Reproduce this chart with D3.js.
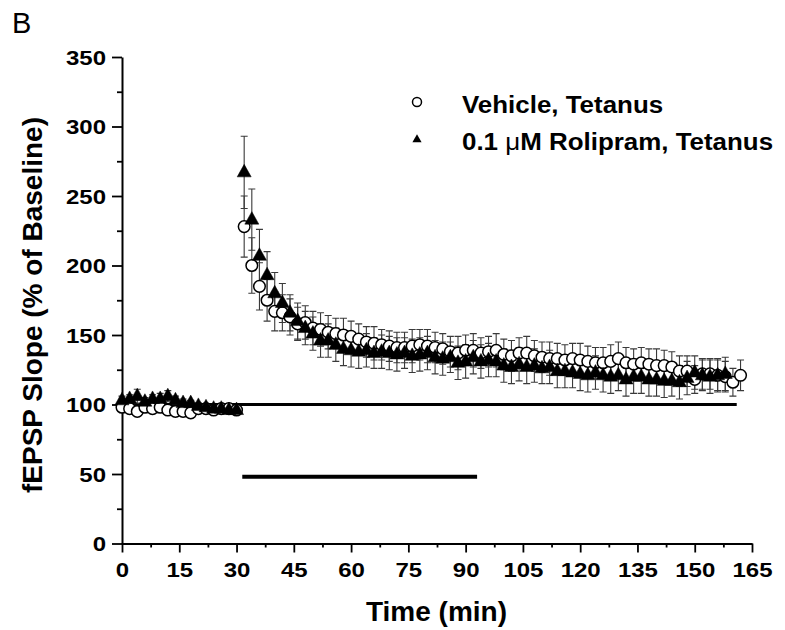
<!DOCTYPE html>
<html>
<head>
<meta charset="utf-8">
<script src="https://cdn.jsdelivr.net/npm/d3@7/dist/d3.min.js"></script>
<style>
  html, body { margin: 0; padding: 0; background: #fff; }
  svg { display: block; }
  text { font-family: "Liberation Sans", Arial, Helvetica, sans-serif; fill: #000; }
</style>
</head>
<body>
<svg id="chart" width="785" height="630"></svg>
<script>
// ---------------- data ----------------
const vehicleTime = [0,2,4,6,8,10,12,14,16,18,20,22,24,26,28,30,
  32,34,36,38,40,42,44,46,48,50,52,54,56,58,60,62,64,66,68,70,72,74,76,78,80,
  82,84,86,88,90,92,94,96,98,100,102,104,106,108,110,112,114,116,118,120,
  122,124,126,128,130,132,134,136,138,140,142,144,146,148,150,152,154,156,158,160,162];
const vehicleValue = [98,97,95,98,97,98,96,95,95,94,97,97,96,97,97,96,
  228,200,185,175,167,166,163,158,159,155,154,152,151,150,149,147,145,144,143,142,141,141,142,143,142,
  141,140,138,137,139,139,137,138,139,136,135,137,137,135,134,133,133,132,133,132,
  131,130,130,131,133,130,129,130,129,128,128,127,124,124,118,122,122,121,120,116,121];
const vehicleSem = [2,3,3,2,3,2,3,3,3,3,2,2,2,2,2,2,
  22,20,17,15,14,13,13,12,12,12,12,12,11,12,11,11,11,12,11,11,11,11,12,11,12,
  11,11,11,12,11,12,11,11,12,11,11,11,12,11,11,12,11,11,11,12,
  11,11,11,12,12,11,11,11,11,12,11,11,11,11,10,11,11,11,11,10,11];

const rolipramTime = [0,2,4,6,8,10,12,14,16,18,20,22,24,26,28,30,
  32,34,36,38,40,42,44,46,48,50,52,54,56,58,60,62,64,66,68,70,72,74,76,78,80,
  82,84,86,88,90,92,94,96,98,100,102,104,106,108,110,112,114,116,118,120,
  122,124,126,128,130,132,134,136,138,140,142,144,146,148,150,152,154,156,158];
const rolipramValue = [103,104,106,102,104,104,106,103,101,101,99,98,97,97,96,96,
  267,233,207,193,180,173,166,160,155,151,146,146,143,140,139,138,139,137,138,137,136,137,135,136,137,
  134,133,134,130,131,134,131,132,131,128,127,129,127,128,126,127,124,124,123,122,
  121,123,121,120,121,118,120,120,118,118,117,117,116,119,123,121,120,121,122];
const rolipramSem = [3,3,5,3,3,4,4,3,3,2,2,2,2,2,2,2,
  26,22,19,17,15,14,13,13,12,12,12,12,12,12,12,12,12,11,12,12,12,11,12,12,12,
  12,12,11,12,12,12,12,12,11,12,12,12,12,12,11,12,12,12,11,12,
  12,12,12,12,11,12,12,12,12,12,12,11,12,12,12,11,12,12,12,11];

const baselineLine = {x: [0, 161], y: 100};
const drugBar = {x: [31.5, 93], y: 48};

const xMajorTicks = [0,15,30,45,60,75,90,105,120,135,150,165];
const xMinorTicks = [7.5,22.5,37.5,52.5,67.5,82.5,97.5,112.5,127.5,142.5,157.5];
const yMajorTicks = [0,50,100,150,200,250,300,350];
const yMinorTicks = [25,75,125,175,225,275,325];

const legendLabels = ["Vehicle, Tetanus", "0.1 μM Rolipram, Tetanus"];

// ---------------- drawing ----------------
const svg = d3.select("#chart");
const x = d3.scaleLinear().domain([0,165]).range([122,752]);
const y = d3.scaleLinear().domain([0,350]).range([543.5,57]);

const vehicle = vehicleTime.map((t,i)=>({t, v: vehicleValue[i], s: vehicleSem[i]}));
const rolipram = rolipramTime.map((t,i)=>({t, v: rolipramValue[i], s: rolipramSem[i]}));

// axes
const gx = svg.append("g").attr("transform", `translate(0,${y(0)})`);
gx.call(d3.axisBottom(x).tickValues(xMajorTicks).tickSize(9).tickSizeOuter(0).tickFormat(d3.format("d")));
const gxm = svg.append("g").attr("transform", `translate(0,${y(0)})`);
gxm.call(d3.axisBottom(x).tickValues(xMinorTicks).tickSize(4).tickSizeOuter(0).tickFormat(""));
gxm.select(".domain").remove();

const gy = svg.append("g").attr("transform", `translate(${x(0)},0)`);
gy.call(d3.axisLeft(y).tickValues(yMajorTicks).tickSize(10).tickSizeOuter(0).tickFormat(d3.format("d")));
const gym = svg.append("g").attr("transform", `translate(${x(0)},0)`);
gym.call(d3.axisLeft(y).tickValues(yMinorTicks).tickSize(5).tickSizeOuter(0).tickFormat(""));
gym.select(".domain").remove();

svg.selectAll(".domain").attr("stroke","#000").attr("stroke-width",2);
svg.selectAll(".tick line").attr("stroke","#000").attr("stroke-width",1.8);

gx.selectAll(".tick text")
  .attr("y", 34).attr("dy", null).attr("x", 0)
  .attr("transform", "scale(1.2,1)")
  .style("font-size","20px").style("font-weight","bold");
gy.selectAll(".tick text")
  .attr("x", 0).attr("dy", "0.36em")
  .attr("transform", "translate(-16,0) scale(1.2,1)")
  .style("font-size","20px").style("font-weight","bold");
svg.selectAll("g").attr("font-family", null).attr("font-size", null);

// reference lines
svg.append("line")
  .attr("x1", x(baselineLine.x[0])).attr("x2", x(baselineLine.x[1]))
  .attr("y1", y(baselineLine.y)).attr("y2", y(baselineLine.y))
  .attr("stroke","#000").attr("stroke-width",3);
svg.append("line")
  .attr("x1", x(drugBar.x[0])).attr("x2", x(drugBar.x[1]))
  .attr("y1", y(drugBar.y)).attr("y2", y(drugBar.y))
  .attr("stroke","#000").attr("stroke-width",4);

// error bars
function errorBars(data, cls) {
  const g = svg.append("g").attr("class", cls)
    .attr("stroke", "#3a3a3a").attr("stroke-width", 1.1).attr("fill","none");
  g.selectAll("path").data(data).join("path")
    .attr("d", d => {
      const cx = x(d.t), y1 = y(d.v + d.s), y2 = y(d.v - d.s), c = 3.5;
      return `M${cx},${y1}V${y2}M${cx-c},${y1}H${cx+c}M${cx-c},${y2}H${cx+c}`;
    });
}
errorBars(vehicle, "eb-veh");
errorBars(rolipram, "eb-rol");

// markers
svg.append("g").selectAll("circle").data(vehicle).join("circle")
  .attr("cx", d => x(d.t)).attr("cy", d => y(d.v)).attr("r", 5.8)
  .attr("fill","#fff").attr("stroke","#000").attr("stroke-width",1.5);

const tri = "M0,-8L7,4.5L-7,4.5Z";
svg.append("g").selectAll("path").data(rolipram).join("path")
  .attr("d", tri)
  .attr("transform", d => `translate(${x(d.t)},${y(d.v)})`)
  .attr("fill","#000").attr("stroke","#000").attr("stroke-width",0.5);

// legend
const leg = svg.append("g");
leg.append("circle").attr("cx", 417).attr("cy", 102).attr("r", 4.5)
  .attr("fill","#fff").attr("stroke","#000").attr("stroke-width",1.5);
leg.append("path").attr("d","M0,-4.8L4.6,3.2L-4.6,3.2Z").attr("transform","translate(417,139)").attr("fill","#000");
leg.append("text").attr("transform","translate(462,113) scale(1.08,1)")
  .style("font-size","24px").style("font-weight","bold").text(legendLabels[0]);
const t2 = leg.append("text").attr("transform","translate(462,150) scale(1.08,1)")
  .style("font-size","24px").style("font-weight","bold");
const parts = legendLabels[1].split("μ");
t2.append("tspan").text(parts[0]);
t2.append("tspan").style("font-weight","normal").text("μ");
t2.append("tspan").text(parts[1]);

// axis titles
svg.append("text").attr("transform","translate(42,305) rotate(-90)")
  .attr("text-anchor","middle").style("font-size","28px").style("font-weight","bold")
  .text("fEPSP Slope (% of Baseline)");
svg.append("text").attr("x", 436.5).attr("y", 621)
  .attr("text-anchor","middle").style("font-size","28px").style("font-weight","bold")
  .text("Time (min)");

// panel letter
svg.append("text").attr("x", 12).attr("y", 33)
  .style("font-size","29px").text("B");
</script>
</body>
</html>
